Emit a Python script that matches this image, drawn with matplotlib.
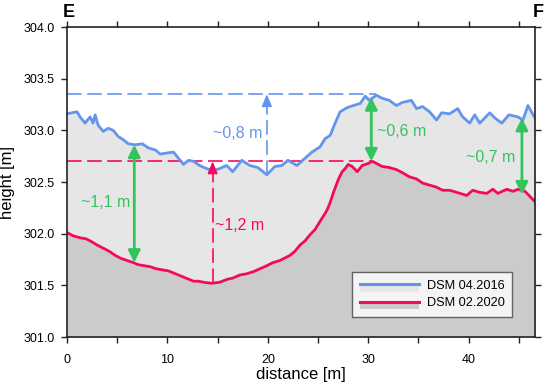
import matplotlib
matplotlib.use("Agg")
import matplotlib.pyplot as plt
from matplotlib.lines import Line2D
from matplotlib.patches import Rectangle
from matplotlib.legend_handler import HandlerBase

plt.rcParams['font.family'] = ['Liberation Sans', 'DejaVu Sans']
plt.rcParams['lines.scale_dashes'] = False

# ---- data ----
blue_x = [0.0, 0.5, 1.0, 1.3, 1.8, 2.3, 2.6, 2.8, 3.1, 3.6, 4.1, 4.6, 5.1, 5.6, 6.1, 6.8,
          7.5, 8.1, 8.8, 9.3, 9.9, 10.6, 11.1, 11.6, 12.1, 12.6, 13.2, 13.9, 14.6, 15.2,
          15.9, 16.5, 17.4, 18.2, 19.0, 19.9, 20.7, 21.4, 22.0, 22.9, 23.7, 24.4, 25.2,
          25.7, 26.2, 26.7, 27.2, 27.9, 28.5, 29.2, 29.7, 30.1, 30.8, 31.4, 32.1, 32.8,
          33.4, 34.3, 34.8, 35.4, 36.1, 36.8, 37.3, 38.1, 38.9, 39.4, 40.1, 40.6, 41.1,
          41.6, 42.1, 42.6, 43.3, 44.0, 44.9, 45.4, 45.9, 46.3, 46.6]
blue_y = [303.16, 303.17, 303.18, 303.13, 303.07, 303.13, 303.07, 303.15, 303.05, 302.99,
          303.02, 303.00, 302.94, 302.91, 302.87, 302.86, 302.87, 302.83, 302.81, 302.77,
          302.78, 302.79, 302.73, 302.67, 302.71, 302.70, 302.66, 302.63, 302.61, 302.63,
          302.66, 302.60, 302.71, 302.66, 302.64, 302.57, 302.65, 302.66, 302.71, 302.66,
          302.73, 302.79, 302.84, 302.92, 302.95, 303.07, 303.18, 303.22, 303.24, 303.26,
          303.33, 303.29, 303.34, 303.31, 303.29, 303.24, 303.27, 303.29, 303.21, 303.23,
          303.18, 303.10, 303.17, 303.16, 303.21, 303.13, 303.07, 303.15, 303.07, 303.12,
          303.17, 303.12, 303.07, 303.15, 303.13, 303.10, 303.24, 303.17, 303.12]

red_x = [0.0, 0.6, 1.3, 1.9, 2.5, 3.0, 3.6, 4.2, 4.8, 5.4, 6.0, 6.6, 7.1, 7.7, 8.3, 8.9,
         9.5, 10.1, 10.6, 11.1, 11.6, 12.1, 12.6, 13.1, 13.6, 14.4, 15.2, 16.0, 16.5, 17.2,
         17.8, 18.5, 19.2, 19.9, 20.5, 21.2, 22.2, 22.7, 23.2, 23.7, 24.2, 24.7, 25.2,
         25.6, 25.9, 26.2, 26.5, 27.0, 27.4, 27.7, 28.0, 28.4, 28.9, 29.4, 30.0, 30.4,
         30.8, 31.4, 32.1, 32.8, 33.4, 34.1, 34.8, 35.4, 36.1, 36.8, 37.4, 38.1, 38.8,
         39.8, 40.4, 41.1, 41.8, 42.4, 42.9, 43.8, 44.4, 44.9, 45.6, 46.1, 46.6]
red_y = [302.01, 301.98, 301.96, 301.95, 301.92, 301.89, 301.86, 301.83, 301.79, 301.76,
         301.74, 301.72, 301.70, 301.69, 301.68, 301.66, 301.65, 301.64, 301.62, 301.60,
         301.58, 301.56, 301.54, 301.54, 301.53, 301.52, 301.53, 301.56, 301.57, 301.60,
         301.61, 301.63, 301.66, 301.69, 301.72, 301.74, 301.79, 301.83, 301.89, 301.93,
         301.99, 302.04, 302.12, 302.18, 302.23, 302.30, 302.39, 302.52, 302.60, 302.63,
         302.67, 302.65, 302.60, 302.66, 302.68, 302.70, 302.68, 302.65, 302.64, 302.62,
         302.59, 302.55, 302.53, 302.49, 302.47, 302.45, 302.42, 302.42, 302.40, 302.37,
         302.42, 302.40, 302.39, 302.43, 302.39, 302.43, 302.41, 302.43, 302.41, 302.36,
         302.31]

labels = ["DSM 04.2016", "DSM 02.2020"]

BLUE = "#6495ED"
RED = "#F50A5A"
GREEN = "#33C45E"
LIGHT = "#E6E6E6"
DARK = "#CBCBCB"

fig = plt.figure(figsize=(5.5, 3.88), dpi=100)
ax = fig.add_axes([0.1218, 0.1314, 0.8509, 0.7990])

ax.fill_between(blue_x, blue_y, 301.0, color=LIGHT, lw=0, zorder=1)
ax.fill_between(red_x, red_y, 301.0, color=DARK, lw=0, zorder=2)
ax.plot(blue_x, blue_y, color=BLUE, lw=2, zorder=5)
ax.plot(red_x, red_y, color=RED, lw=2, zorder=5)

dash = (0, (10.5, 4.0))
# reference dashed lines
ax.plot([0, 30.8], [303.35, 303.35], color=BLUE, lw=1.2, linestyle=dash, zorder=4)
ax.plot([0, 30.4], [302.70, 302.70], color=RED, lw=1.2, linestyle=dash, zorder=4)
ax.plot([19.9, 19.9], [302.57, 303.27], color=BLUE, lw=1.2, linestyle=dash, zorder=4)
ax.plot([14.5, 14.5], [301.52, 302.62], color=RED, lw=1.2, linestyle=dash, zorder=4)
ax.annotate('', xy=(19.9, 303.35), xytext=(19.9, 303.25),
            arrowprops=dict(arrowstyle='-|>,head_length=0.6,head_width=0.25', color=BLUE,
                            lw=1.2, shrinkA=0, shrinkB=0, mutation_scale=12), zorder=6)
ax.annotate('', xy=(14.5, 302.70), xytext=(14.5, 302.60),
            arrowprops=dict(arrowstyle='-|>,head_length=0.6,head_width=0.25', color=RED,
                            lw=1.2, shrinkA=0, shrinkB=0, mutation_scale=12), zorder=6)

# green double arrows
for x, y0, y1 in [(6.7, 301.72, 302.86), (30.3, 302.70, 303.32), (45.3, 302.38, 303.12)]:
    ax.annotate('', xy=(x, y1), xytext=(x, y0),
                arrowprops=dict(arrowstyle='<|-|>,head_length=0.6,head_width=0.3', color=GREEN,
                                lw=2, shrinkA=0, shrinkB=0, mutation_scale=12), zorder=6)

fs = 11.5
ax.text(19.5, 302.97, "~0,8 m", color=BLUE, fontsize=fs, ha='right', va='center', zorder=7)
ax.text(14.75, 302.08, "~1,2 m", color=RED, fontsize=fs, ha='left', va='center', zorder=7)
ax.text(6.3, 302.30, "~1,1 m", color=GREEN, fontsize=fs, ha='right', va='center', zorder=7)
ax.text(30.85, 302.99, "~0,6 m", color=GREEN, fontsize=fs, ha='left', va='center', zorder=7)
ax.text(44.65, 302.74, "~0,7 m", color=GREEN, fontsize=fs, ha='right', va='center', zorder=7)

ax.set_xlim(0, 46.6)
ax.set_ylim(301.0, 304.0)
ax.set_xticks([0, 10, 20, 30, 40])
ax.set_xticks([5, 15, 25, 35, 45], minor=True)
ax.set_yticks([301.0, 301.5, 302.0, 302.5, 303.0, 303.5, 304.0])
ax.set_yticklabels(["301.0", "301.5", "302.0", "302.5", "303.0", "303.5", "304.0"])
ax.tick_params(axis='both', which='both', direction='out', length=4, width=1,
               labelsize=9, top=True, right=True, color='#222222')
ax.tick_params(axis='x', pad=8)
ax.tick_params(axis='y', pad=5)
for s in ax.spines.values():
    s.set_linewidth(1.2)
    s.set_color('#222222')
    s.set_zorder(8)

ax.set_xlabel("distance [m]", fontsize=12, labelpad=1)
ax.set_ylabel("height [m]", fontsize=12, labelpad=6)

fig.text(0.114, 0.968, "E", fontsize=13, fontweight='bold', ha='left', va='center')
fig.text(0.989, 0.968, "F", fontsize=13, fontweight='bold', ha='right', va='center')


class LineBand(HandlerBase):
    def __init__(self, color, band):
        super().__init__()
        self.color = color
        self.band = band

    def create_artists(self, legend, orig_handle, xdescent, ydescent, width, height, fontsize, trans):
        rect = Rectangle((-xdescent, -ydescent - height * 0.35), width, height * 0.8,
                         facecolor=self.band, edgecolor='none', transform=trans)
        ln = Line2D([-xdescent, -xdescent + width], [-ydescent + height * 0.5] * 2,
                    color=self.color, lw=2.2, transform=trans)
        return [rect, ln]


h1 = Line2D([], [], color=BLUE)
h2 = Line2D([], [], color=RED)
leg = ax.legend([h1, h2], labels, loc='lower right', bbox_to_anchor=(0.951, 0.0645),
                borderaxespad=0, fontsize=9.2, frameon=True, fancybox=False,
                handlelength=4.6, handletextpad=0.6, labelspacing=0.45,
                borderpad=0.6,
                handler_map={h1: LineBand(BLUE, LIGHT), h2: LineBand(RED, DARK)})
leg.get_frame().set_edgecolor('#444444')
leg.get_frame().set_linewidth(1.0)
leg.set_zorder(9)

fig.savefig("out.png", dpi=100)
